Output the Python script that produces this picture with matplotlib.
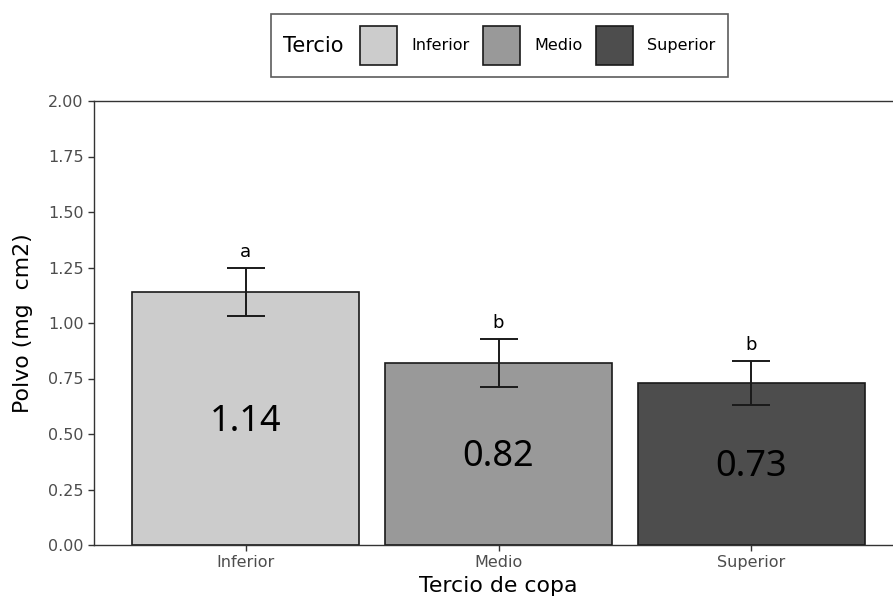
import matplotlib
matplotlib.use("Agg")
import matplotlib.pyplot as plt
from matplotlib.patches import Patch
from matplotlib.offsetbox import HPacker

# Polvo por tercio de copa
tercios = ["Inferior", "Medio", "Superior"]
polvo = [1.14, 0.82, 0.73]
error = [0.11, 0.11, 0.10]
letras = ["a", "b", "b"]
colores = ["#cccccc", "#999999", "#4d4d4d"]

plt.rcParams["font.family"] = ["DejaVu Sans"]

fig = plt.figure(figsize=(8.93, 6.0), dpi=100)
ax = fig.add_axes([94 / 893, 55 / 600, 809 / 893, 444 / 600])

x = range(len(tercios))
ax.bar(x, polvo, width=0.9, color=colores, edgecolor="#1a1a1a", linewidth=1.2, zorder=2)
ax.errorbar(x, polvo, yerr=error, fmt="none", ecolor="#1a1a1a", elinewidth=1.4,
            capsize=13.5, capthick=1.4, zorder=3)

for i, (v, e, l) in enumerate(zip(polvo, error, letras)):
    ax.text(i, v + e + 0.07, l, ha="center", va="center", fontsize=13, color="black")
    ax.text(i, v / 2 - 0.015, f"{v:.2f}", ha="center", va="center", fontsize=26,
            family="Noto Sans", color="black")

ax.set_xlim(-0.6, 2.6)
ax.set_ylim(0, 2.0)
ax.set_yticks([0, 0.25, 0.5, 0.75, 1.0, 1.25, 1.5, 1.75, 2.0])
ax.set_yticklabels([f"{t:.2f}" for t in ax.get_yticks()])
ax.set_xticks(list(x))
ax.set_xticklabels(tercios)
ax.tick_params(axis="both", colors="#333333", labelcolor="#4d4d4d", labelsize=11.5,
               length=4, width=1)

for s in ["left", "bottom", "top"]:
    ax.spines[s].set_color("#333333")
    ax.spines[s].set_linewidth(1)
ax.spines["right"].set_visible(False)

ax.set_xlabel("Tercio de copa", fontsize=15.8, labelpad=4)
ax.set_ylabel("Polvo (mg  cm2)", fontsize=15.8, labelpad=11)

handles = [Patch(facecolor=c, edgecolor="#1a1a1a", linewidth=1.2) for c in colores]
leg = fig.legend(handles, tercios, title="Tercio", ncol=3, loc="center",
                 bbox_to_anchor=(499.5 / 893, 1 - 45.5 / 600), frameon=True, fancybox=False,
                 edgecolor="#333333", fontsize=11.5, title_fontsize=15,
                 handlelength=2.3, handleheight=3.3, handletextpad=0.9, columnspacing=0.85,
                 borderpad=0.8, borderaxespad=0)
leg.get_frame().set_linewidth(1.2)
# título a la izquierda, en la misma fila que las claves
title_box = leg._legend_title_box
handle_box = leg._legend_handle_box
leg._legend_box._children = [HPacker(children=[title_box, handle_box], pad=0, sep=12,
                                     align="center")]

fig.savefig("out.png", dpi=100)
